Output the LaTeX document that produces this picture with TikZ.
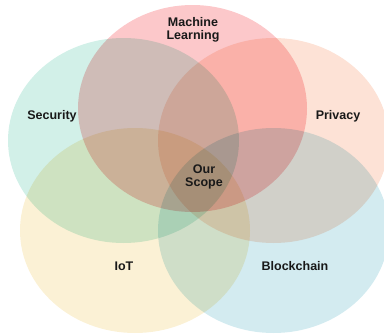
\documentclass[tikz,border=0pt]{standalone}
\usepackage{fontspec}
\setmainfont{Liberation Sans}
\usepackage{tikz}
\usetikzlibrary{backgrounds}

\definecolor{mlpink}{HTML}{FCC8CA}
\definecolor{secteal}{HTML}{D2F0E8}
\definecolor{privpeach}{HTML}{FDE2D6}
\definecolor{iotyellow}{HTML}{FBF1D5}
\definecolor{bcblue}{HTML}{D3EBF0}

\begin{document}
\begin{tikzpicture}[x=1pt, y=-1pt,
    lbl/.style={font=\fontsize{12.5}{13}\selectfont\bfseries, align=center, text=black!90}]
        \useasboundingbox (0,0) rectangle (384,335);

    \begin{scope}
        \clip (0,0) rectangle (384,335);
        \begin{scope}[blend group=multiply]
            \fill[mlpink] (192.5,108.5) ellipse [x radius=114.5, y radius=103.5];
            \fill[secteal] (123.5,140.5) ellipse [x radius=115.5, y radius=102.5];
            \fill[privpeach] (273.5,140.5) ellipse [x radius=115.5, y radius=102.5];
            \fill[iotyellow] (135,230.5) ellipse [x radius=115, y radius=102.5];
            \fill[bcblue] (273.5,230.5) ellipse [x radius=115.5, y radius=102.5];
        \end{scope}
    \end{scope}

        \node[lbl] (ml) at (193,30) {Machine\\Learning};
        \node[lbl] (security) at (52,116) {Security};
        \node[lbl] (privacy) at (338,116) {Privacy};
        \node[lbl] (scope) at (204,177) {Our\\Scope};
        \node[lbl] (iot) at (124,266) {IoT};
        \node[lbl] (blockchain) at (295,266) {Blockchain};
    \end{tikzpicture}
\end{document}
